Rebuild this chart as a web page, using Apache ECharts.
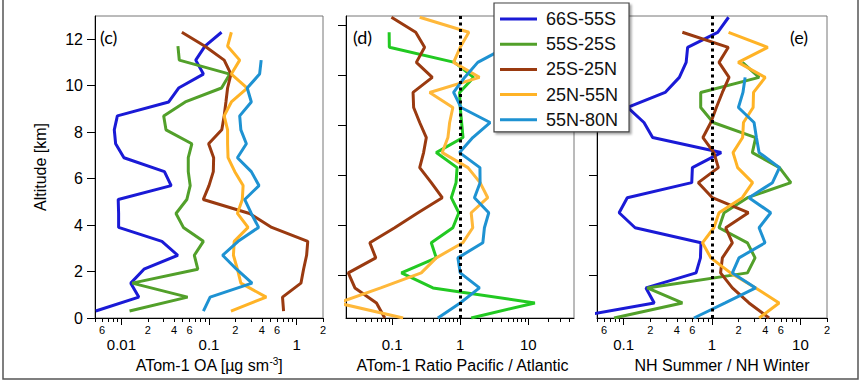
<!DOCTYPE html>
<html><head><meta charset="utf-8">
<script src="https://cdn.jsdelivr.net/npm/echarts@6/dist/echarts.min.js"></script>
<style>html,body{margin:0;padding:0;background:#fff}#chart{width:862px;height:382px}</style>
</head><body><div id="chart"></div>
<script>
// ---------- data ----------
const altitude = [0.3, 0.9, 1.5, 2.1, 2.7, 3.3, 3.9, 4.5, 5.1, 5.7, 6.3, 6.9, 7.5, 8.1, 8.7, 9.3, 9.9, 10.5, 11.1, 11.7, 12.3];
const regions = ['66S-55S', '55S-25S', '25S-25N', '25N-55N', '55N-80N'];

// panel (c): ATom-1 OA [ug sm-3]
const c_66S_55S = [0.0051,0.0158,0.0128,0.0181,0.044,0.029,0.0093,0.0093,0.0092,0.037,0.031,0.0107,0.0086,0.0083,0.0090,0.0347,0.045,0.0863,0.0706,0.090,0.139];
const c_55S_25S = [0.0124,0.057,0.0133,0.0745,0.068,0.0863,0.051,0.042,0.0558,0.061,0.058,0.058,0.0637,0.0323,0.0304,0.0536,0.139,0.173,0.0458,0.0442,null];
const c_25S_25N = [0.71,0.69,1.12,1.2,1.3,1.34,0.52,0.29,0.086,0.10,0.112,0.113,0.099,0.14,0.149,0.156,0.163,0.178,0.149,0.090,0.049];
const c_25N_55N = [0.178,0.45,0.231,0.211,0.19,0.194,0.279,0.211,0.24,0.245,0.197,0.165,0.163,0.163,0.149,0.18,0.273,0.18,0.224,0.163,0.18];
const c_55N_80N = [0.0863,0.103,0.31,0.206,0.143,0.215,0.368,0.304,0.256,0.372,0.304,0.211,0.267,0.231,0.224,0.304,0.273,0.378,0.394,null,null];

// panel (d): ratio Pacific / Atlantic
const d_55S_25S = [1.45,12.5,0.398,0.137,0.445,0.376,0.78,0.955,0.74,0.87,0.9,0.445,1.1,1.05,1.0,0.98,1.57,0.826,0.091,0.0904,null];
const d_25S_25N = [0.078,0.0589,0.0284,0.0227,0.0575,0.047,0.109,0.24,0.545,0.376,0.254,0.29,0.318,0.254,0.207,0.203,0.389,0.227,0.3,0.222,0.0977];
const d_25N_55N = [0.145,0.016,0.068,0.268,0.445,1.09,1.53,1.45,2.54,1.96,1.3,0.545,0.66,0.70,0.78,0.356,1.92,0.80,1.0,1.34,0.254];
const d_55N_80N = [0.47,1.0,1.92,1.0,0.925,2.15,2.27,2.63,1.62,1.96,1.95,0.98,1.53,2.75,1.03,0.8,1.16,1.81,4.7,null,null];

// panel (e): NH summer / NH winter
const e_66S_55S = [0.025,0.222,0.179,0.66,0.74,0.75,0.135,0.089,0.11,0.59,0.6,1.27,0.213,0.17,0.111,0.295,0.427,0.51,0.53,1.16,1.54];
const e_55S_25S = [0.078,0.462,0.185,2.52,3.07,2.52,1.2,1.37,2.52,7.8,5.8,2.86,3.12,1.03,0.745,0.745,3.41,2.21,null,null,null];
const e_25S_25N = [4.42,2.62,1.7,1.25,1.31,1.7,1.43,2.58,1.01,0.70,1.18,1.05,0.79,0.97,1.12,1.31,1.56,1.2,1.53,0.462,null];
const e_25N_55N = [3.41,5.74,3.12,1.62,0.97,0.78,1.05,1.2,2.2,2.88,1.95,1.73,2.22,2.27,2.92,2.95,4.0,1.98,4.27,1.54,null];
const e_55N_80N = [0.625,1.41,3.12,1.7,2.02,3.98,3.41,4.62,2.62,4.83,5.8,3.41,3.18,2.99,1.99,2.24,2.37,null,null,null,null];

const refRatio = 1;

// axes ranges and ticks
const yRangeC = [0, 13];
const yRangeDE = [0.3, 12.35];
const yTicksC = [0, 2, 4, 6, 8, 10, 12];
const yTicksDE = [2, 4, 6, 8, 10, 12];
const xRangeC = [0.005, 2];
const xRangeD = [0.021, 47];
const xRangeE = [0.05, 20];
const majorC = [0.01, 0.1, 1];
const majorD = [0.1, 1, 10];
const majorE = [0.1, 1, 10];
const minorC = [0.005,0.006,0.007,0.008,0.009,0.02,0.03,0.04,0.05,0.06,0.07,0.08,0.09,0.2,0.3,0.4,0.5,0.6,0.7,0.8,0.9,2];
const minorD = [0.03,0.04,0.05,0.06,0.07,0.08,0.09,0.2,0.3,0.4,0.5,0.6,0.7,0.8,0.9,2,3,4,5,6,7,8,9,20,30,40];
const minorE = [0.05,0.06,0.07,0.08,0.09,0.2,0.3,0.4,0.5,0.6,0.7,0.8,0.9,2,3,4,5,6,7,8,9,20];
const minorLabelC = [0.006, 0.02, 0.04, 0.06, 0.2, 0.4, 0.6, 2];
const minorLabelE = [0.06, 0.2, 0.4, 0.6, 2, 4, 6, 20];

// ---------- styling ----------
const FONT = 'Liberation Sans, Arial, sans-serif';
const colorsCE = ['#1a1ad6', '#52a02a', '#9a3a10', '#ffb326', '#1e92d2'];
const colorsD  = ['#1a1ad6', '#22c922', '#9a3a10', '#ffb83a', '#1e92d2'];

function pairs(vals) {
  const out = [];
  vals.forEach((v, i) => { if (v !== null) out.push([v, altitude[i]]); });
  return out;
}
function supFormatter(v) {
  const p = Math.pow(10, Math.floor(Math.log10(v) + 1e-9));
  return String(Math.round(v / p));
}

function xAxes(grid, range, major, minor, minorLabels, name, padLeft) {
  return [
    {
      type: 'log', logBase: 10, gridIndex: grid, min: range[0], max: range[1], position: 'bottom',
      axisLine: { show: true, onZero: false, lineStyle: { color: '#000', width: 1 } },
      axisTick: { show: true, customValues: major, length: 7, lineStyle: { color: '#000', width: 1 } },
      axisLabel: { show: true, customValues: major, margin: 19, fontSize: 15, fontFamily: FONT, color: '#000',
                   formatter: v => String(v) },
      splitLine: { show: false }, minorTick: { show: false },
      name: name, nameLocation: 'middle', nameGap: 34,
      nameTextStyle: { fontSize: 16, fontFamily: FONT, color: '#000', lineHeight: 18, padding: [0, 0, 0, padLeft],
        rich: { sup: { fontSize: 10, fontFamily: FONT, color: '#000', verticalAlign: 'top', lineHeight: 10 } } }
    },
    {
      type: 'log', logBase: 10, gridIndex: grid, min: range[0], max: range[1], position: 'bottom', offset: 0,
      axisLine: { show: false },
      axisTick: { show: true, customValues: minor, length: 4, lineStyle: { color: '#000', width: 1 } },
      axisLabel: { show: minorLabels.length > 0, customValues: minorLabels, margin: 6, fontSize: 11,
                   fontFamily: FONT, color: '#000', formatter: supFormatter },
      splitLine: { show: false }, minorTick: { show: false }
    }
  ];
}

const xAxis = [].concat(
  xAxes(0, xRangeC, majorC, minorC, minorLabelC, 'ATom-1 OA [µg sm{sup|-3}]', 0),
  xAxes(1, xRangeD, majorD, minorD, [], 'ATom-1 Ratio Pacific / Atlantic', 5),
  xAxes(2, xRangeE, majorE, minorE, minorLabelE, 'NH Summer / NH Winter', 20)
);

const yAxis = [
  {
    type: 'value', gridIndex: 0, min: yRangeC[0], max: yRangeC[1],
    axisLine: { show: true, lineStyle: { color: '#000', width: 1 } },
    axisTick: { show: true, customValues: yTicksC, length: 8, lineStyle: { color: '#000' } },
    axisLabel: { customValues: yTicksC, margin: 12, fontSize: 16, fontFamily: FONT, color: '#000' },
    splitLine: { show: false },
    name: 'Altitude [km]', nameLocation: 'middle', nameGap: 47, nameRotate: 90,
    nameTextStyle: { fontSize: 16, fontFamily: FONT, color: '#000' }
  },
  {
    type: 'value', gridIndex: 1, min: yRangeDE[0], max: yRangeDE[1],
    axisLine: { show: true, lineStyle: { color: '#000', width: 1 } },
    axisTick: { show: true, customValues: yTicksDE, length: 8, lineStyle: { color: '#000' } },
    axisLabel: { show: false }, splitLine: { show: false }
  },
  {
    type: 'value', gridIndex: 2, min: yRangeDE[0], max: yRangeDE[1],
    axisLine: { show: true, lineStyle: { color: '#000', width: 1 } },
    axisTick: { show: true, customValues: yTicksDE, length: 8, lineStyle: { color: '#000' } },
    axisLabel: { show: false }, splitLine: { show: false }
  }
];

const grid = [
  { left: 95, top: 16, width: 228, height: 302, show: true, borderColor: '#777', borderWidth: 1 },
  { left: 346, top: 16, width: 228, height: 302, show: true, borderColor: '#777', borderWidth: 1 },
  { left: 597, top: 16, width: 230, height: 302, show: true, borderColor: '#777', borderWidth: 1 }
];

const dotted = {
  silent: true, symbol: ['none', 'none'], label: { show: false },
  lineStyle: { color: '#000', width: 3, type: [3, 3.5] },
  data: [{ xAxis: refRatio }]
};

function line(name, vals, xi, yi, color, mark) {
  const s = {
    type: 'line', name: name, data: pairs(vals), xAxisIndex: xi, yAxisIndex: yi,
    symbol: 'none', clip: true, animation: false,
    lineStyle: { width: 3, color: color }, itemStyle: { color: color }
  };
  if (mark) s.markLine = mark;
  return s;
}

const series = [
  line(regions[0], c_66S_55S, 0, 0, colorsCE[0]),
  line(regions[1], c_55S_25S, 0, 0, colorsCE[1]),
  line(regions[2], c_25S_25N, 0, 0, colorsCE[2]),
  line(regions[3], c_25N_55N, 0, 0, colorsCE[3]),
  line(regions[4], c_55N_80N, 0, 0, colorsCE[4]),
  line(regions[1], d_55S_25S, 2, 1, colorsD[1]),
  line(regions[2], d_25S_25N, 2, 1, colorsD[2]),
  line(regions[3], d_25N_55N, 2, 1, colorsD[3]),
  line(regions[4], d_55N_80N, 2, 1, colorsD[4], dotted),
  line(regions[0], e_66S_55S, 4, 2, colorsCE[0]),
  line(regions[1], e_55S_25S, 4, 2, colorsCE[1]),
  line(regions[2], e_25S_25N, 4, 2, colorsCE[2]),
  line(regions[3], e_25N_55N, 4, 2, colorsCE[3]),
  line(regions[4], e_55N_80N, 4, 2, colorsCE[4], dotted)
];

const chart = echarts.init(document.getElementById('chart'), null, { renderer: 'svg' });
chart.setOption({
  backgroundColor: '#fff',
  animation: false,
  grid: grid,
  xAxis: xAxis,
  yAxis: yAxis,
  series: series,
  legend: {
    data: regions, orient: 'vertical', left: 494, top: 3,
    padding: [7, 11, 3, 6], itemGap: 7.2, itemWidth: 37, itemHeight: 3, icon: 'rect',
    selectedMode: false, backgroundColor: '#fff', borderColor: '#444', borderWidth: 1.2,
    shadowColor: 'rgba(0,0,0,0.35)', shadowOffsetX: 2, shadowOffsetY: 2, shadowBlur: 2,
    textStyle: { fontSize: 18, fontFamily: FONT, color: '#111', lineHeight: 15, padding: [0, 0, 0, 4] },
    z: 10
  },
  graphic: [
    { type: 'text', left: 100, top: 28, style: { text: '(c)', font: '18px Lato, sans-serif', fill: '#000' } },
    { type: 'text', left: 353, top: 28, style: { text: '(d)', font: '18px Lato, sans-serif', fill: '#000' } },
    { type: 'text', left: 790, top: 28, style: { text: '(e)', font: '18px Lato, sans-serif', fill: '#000' } },
    { type: 'rect', silent: true, z: -10, shape: { x: 3, y: -10, width: 855, height: 389 },
      style: { fill: 'none', stroke: '#555', lineWidth: 1.5 } }
  ]
});
</script>
</body></html>
